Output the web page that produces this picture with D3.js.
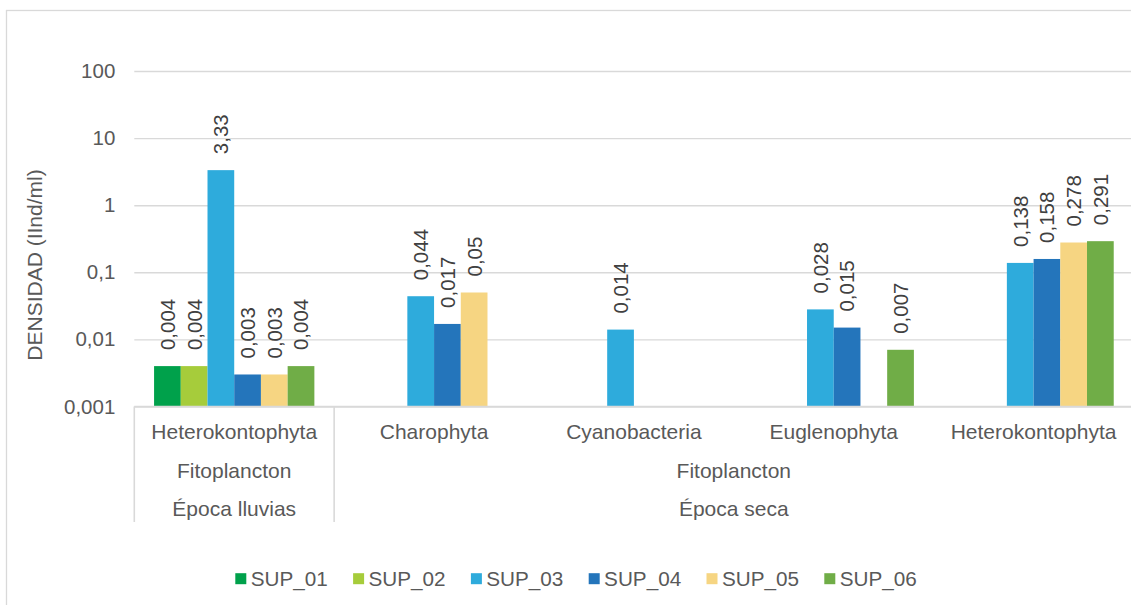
<!DOCTYPE html>
<html>
<head>
<meta charset="utf-8">
<script src="https://cdn.jsdelivr.net/npm/d3@7"></script>
<style>
  html, body { margin: 0; padding: 0; background: #fff; }
  svg { display: block; font-family: "Liberation Sans", Arial, sans-serif; }
</style>
</head>
<body>
<svg id="chart" width="1131" height="605"></svg>
<script>
// Phylum per bar group, with the two outer category levels
const categories = ["Heterokontophyta", "Charophyta", "Cyanobacteria", "Euglenophyta", "Heterokontophyta"];
const groups = ["Fitoplancton", "Fitoplancton", "Fitoplancton", "Fitoplancton", "Fitoplancton"];
const seasons = ["Época lluvias", "Época seca", "Época seca", "Época seca", "Época seca"];

// Sampling stations
const series = ["SUP_01", "SUP_02", "SUP_03", "SUP_04", "SUP_05", "SUP_06"];
const colors = ["#00a14b", "#a6cc3b", "#2eabdc", "#2475bb", "#f6d582", "#70ad47"];

// Density (Ind/ml) per station, one array per station, null = not recorded
const SUP_01 = [0.004, null, null, null, null];
const SUP_02 = [0.004, null, null, null, null];
const SUP_03 = [3.33, 0.044, 0.014, 0.028, 0.138];
const SUP_04 = [0.003, 0.017, null, 0.015, 0.158];
const SUP_05 = [0.003, 0.05, null, null, 0.278];
const SUP_06 = [0.004, null, null, 0.007, 0.291];
const values = [SUP_01, SUP_02, SUP_03, SUP_04, SUP_05, SUP_06];

const yTicks = [0.001, 0.01, 0.1, 1, 10, 100];
const yTitle = "DENSIDAD (IInd/ml)";

const fmt = v => String(v).replace(".", ",");

const svg = d3.select("#chart");
const plotLeft = 134.3, plotRight = 1133.5, plotTop = 71, plotBottom = 406.5;
const grid = "#d9d9d9", textCol = "#595959", labelCol = "#404040";

// Chart area border
svg.append("rect").attr("x", 6.5).attr("y", 10.5).attr("width", 1140).attr("height", 620)
  .attr("fill", "#fff").attr("stroke", grid).attr("stroke-width", 1.3);

const y = d3.scaleLog().domain([0.001, 100]).range([plotBottom, plotTop]);
const x0 = d3.scaleBand().domain(d3.range(categories.length)).range([plotLeft, plotRight]).padding(0);
const x1 = d3.scaleBand().domain(series).range([0, x0.bandwidth()]).paddingInner(0).paddingOuter(0.74);

// Gridlines and y tick labels
const yAxis = d3.axisLeft(y).tickValues(yTicks).tickFormat(fmt).tickSize(-(plotRight - plotLeft)).tickPadding(19);
const ya = svg.append("g").attr("transform", `translate(${plotLeft},0)`).call(yAxis);
ya.select(".domain").remove();
ya.selectAll(".tick line").attr("stroke", grid).attr("stroke-width", 1.4);
ya.selectAll(".tick text").attr("fill", textCol).attr("font-size", "20.5px")
  .attr("font-family", "'Liberation Sans', Arial, sans-serif");

// Y axis title
svg.append("text").attr("transform", "translate(35,265) rotate(-90)")
  .attr("text-anchor", "middle").attr("dy", "0.35em")
  .attr("fill", textCol).attr("font-size", "21px").text(yTitle);

// Bars
const rows = [];
categories.forEach((c, i) => series.forEach((s, j) => {
  const v = values[j][i];
  if (v != null) rows.push({ i, s, j, v });
}));

svg.append("g").selectAll("rect").data(rows).join("rect")
  .attr("x", d => x0(d.i) + x1(d.s))
  .attr("y", d => y(d.v))
  .attr("width", x1.bandwidth())
  .attr("height", d => y(0.001) - y(d.v))
  .attr("fill", d => colors[d.j]);

// Value labels, rotated above each bar
svg.append("g").selectAll("text").data(rows).join("text")
  .attr("transform", d => `translate(${x0(d.i) + x1(d.s) + x1.bandwidth() / 2},${y(d.v) - 16}) rotate(-90)`)
  .attr("dy", "0.36em")
  .attr("fill", labelCol).attr("font-size", "20.5px")
  .text(d => fmt(d.v));

// Category axis baseline
svg.append("line").attr("x1", plotLeft).attr("x2", plotRight).attr("y1", plotBottom).attr("y2", plotBottom)
  .attr("stroke", grid).attr("stroke-width", 1.6);

// Multi-level category labels
const rowY = [432, 470.5, 509];
const axisBottom = 522;
const spans = (arr) => {
  const out = [];
  arr.forEach((v, i) => {
    const last = out[out.length - 1];
    if (last && last.label === v && seasons[i] === seasons[last.end]) last.end = i;
    else out.push({ label: v, start: i, end: i });
  });
  return out;
};

svg.append("g").selectAll("text").data(categories).join("text")
  .attr("x", (d, i) => x0(i) + x0.bandwidth() / 2).attr("y", rowY[0]).attr("dy", "0.35em")
  .attr("text-anchor", "middle").attr("fill", textCol).attr("font-size", "21px").text(d => d);

[groups, seasons].forEach((arr, k) => {
  svg.append("g").selectAll("text").data(spans(arr)).join("text")
    .attr("x", d => (x0(d.start) + x0(d.end) + x0.bandwidth()) / 2)
    .attr("y", rowY[k + 1]).attr("dy", "0.35em")
    .attr("text-anchor", "middle").attr("fill", textCol).attr("font-size", "21px").text(d => d.label);
});

// Separators between seasons
const seps = [0];
seasons.forEach((s, i) => { if (i > 0 && s !== seasons[i - 1]) seps.push(i); });
svg.append("g").selectAll("line").data(seps).join("line")
  .attr("x1", d => x0(d)).attr("x2", d => x0(d))
  .attr("y1", plotBottom).attr("y2", axisBottom)
  .attr("stroke", grid).attr("stroke-width", 1.6);

// Legend
const legend = svg.append("g").selectAll("g").data(series).join("g")
  .attr("transform", (d, i) => `translate(${235.3 + i * 117.8},578.7)`);
legend.append("rect").attr("x", 0).attr("y", -5.5).attr("width", 11).attr("height", 11)
  .attr("fill", (d, i) => colors[i]);
legend.append("text").attr("x", 15.4)
  .attr("dy", "0.36em").attr("fill", textCol).attr("font-size", "20.7px").text(d => d);
</script>
</body>
</html>
